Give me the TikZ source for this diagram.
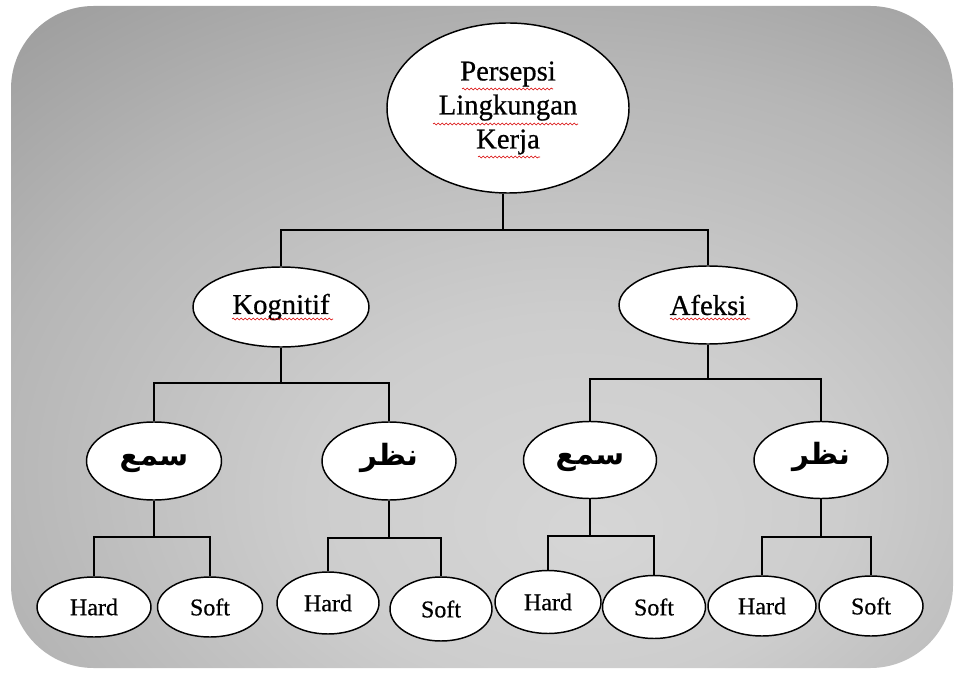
\documentclass[tikz,border=0pt]{standalone}
\usepackage{fontspec}
\setmainfont{Liberation Serif}[FakeBold=0.6]
\newfontfamily\arabicfont[Script=Arabic]{DejaVu Sans}
\TeXXeTstate=1
\usetikzlibrary{shapes.geometric,decorations.pathmorphing}

% panel shading: light centre fading to dark grey edges
\definecolor{pc0}{HTML}{D6D6D6}
\definecolor{pc1}{HTML}{CDCDCD}
\definecolor{pc2}{HTML}{B6B6B6}
\definecolor{pc3}{HTML}{979797}
\definecolor{pc4}{HTML}{7A7A7A}
\definecolor{pc5}{HTML}{646464}
\pgfdeclareradialshading{panelglow}{\pgfpoint{6bp}{-15bp}}{%
  color(0bp)=(pc0); color(14bp)=(pc1); color(30bp)=(pc2);
  color(45bp)=(pc3); color(60bp)=(pc4); color(82bp)=(pc5)}

\tikzset{
  bubble/.style={ellipse, draw=black, line width=1.1pt, fill=white,
    inner sep=0pt, text=black},
  sz/.style 2 args={minimum width={#1*0.75pt}, minimum height={#2*0.75pt}},
  toptext/.style={font=\fontsize{21.5}{25.5}\selectfont, align=center},
  midtext/.style={font=\fontsize{21.5}{25.5}\selectfont},
  arabtext/.style={font=\fontsize{22}{26}\arabicfont\bfseries},
  leaftext/.style={font=\fontsize{18}{21}\selectfont},
  link/.style={line width=1.1pt, draw=black},
  squig/.style={draw=red!85!black, line width=0.45pt, decorate,
    decoration={snake, segment length=3pt, amplitude=0.7pt}},
}

% right-to-left word, set on a zero-height box so its baseline sits
% just below the centre of the ellipse
\newcommand{\ar}[1]{\raisebox{-3.5pt}[0pt][0pt]{\beginR #1\endR}}

\begin{document}
\begin{tikzpicture}[x=0.75pt, y=-0.75pt]
  \useasboundingbox (0,0) rectangle (955,673);

  % shaded rounded panel
  \path[shading=panelglow, rounded corners=62pt] (11,6) rectangle (953,668);

  % top level
  \node[bubble, sz={242}{170}, toptext] (root) at (508,108)
    {Persepsi\\Lingkungan\\Kerja};

  % second level
  \node[bubble, sz={176}{80}, midtext] (kog) at (281,307) {Kognitif};
  \node[bubble, sz={178}{78}, midtext] (afe) at (708,305) {Afeksi};

  % third level
  \node[bubble, sz={135}{78}, arabtext] (s1) at (154,461) {\ar{سمع}};
  \node[bubble, sz={134}{78}, arabtext] (n1) at (389,461) {\ar{نظر}};
  \node[bubble, sz={133}{77}, arabtext] (s2) at (590,460) {\ar{سمع}};
  \node[bubble, sz={134}{77}, arabtext] (n2) at (821,460) {\ar{نظر}};

  % leaves
  \node[bubble, sz={114}{60}, leaftext] (h1) at (94,607) {Hard};
  \node[bubble, sz={105}{60}, leaftext] (o1) at (210,607) {Soft};
  \node[bubble, sz={102}{62}, leaftext] (h2) at (328,603) {Hard};
  \node[bubble, sz={102}{64}, leaftext] (o2) at (441,609) {Soft};
  \node[bubble, sz={106}{63}, leaftext] (h3) at (548,602) {Hard};
  \node[bubble, sz={103}{63}, leaftext] (o3) at (654,607) {Soft};
  \node[bubble, sz={108}{60}, leaftext] (h4) at (762,606) {Hard};
  \node[bubble, sz={104}{60}, leaftext] (o4) at (871,606) {Soft};

  % junction points of the elbow connectors
  \coordinate (j0) at (503,230);
  \coordinate (j1) at (281,383);
  \coordinate (j2) at (708,379);
  \coordinate (j3) at (154,537);
  \coordinate (j4) at (389,538);
  \coordinate (j5) at (590,536);
  \coordinate (j6) at (821,537);

  \draw[link] (root.south -| j0) -- (j0);
  \draw[link] (kog.north) |- (j0) -| (afe.north);
  \draw[link] (kog.south) -- (j1);
  \draw[link] (s1.north) |- (j1) -| (n1.north);
  \draw[link] (afe.south) -- (j2);
  \draw[link] (s2.north) |- (j2) -| (n2.north);
  \draw[link] (s1.south) -- (j3);
  \draw[link] (h1.north) |- (j3) -| (o1.north);
  \draw[link] (n1.south) -- (j4);
  \draw[link] (h2.north) |- (j4) -| (o2.north);
  \draw[link] (s2.south) -- (j5);
  \draw[link] (h3.north) |- (j5) -| (o3.north);
  \draw[link] (n2.south) -- (j6);
  \draw[link] (h4.north) |- (j6) -| (o4.north);

  % spell-check squiggles under the Latin words
  \draw[squig] (462,89) -- (553,89);
  \draw[squig] (433,124) -- (578,124);
  \draw[squig] (478,157) -- (540,157);
  \draw[squig] (232,319) -- (333,319);
  \draw[squig] (670,319) -- (750,319);
\end{tikzpicture}
\end{document}
